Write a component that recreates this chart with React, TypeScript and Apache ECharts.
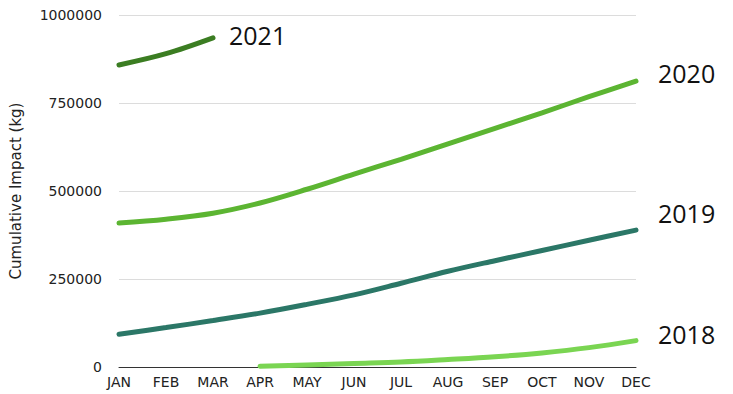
import React, { useEffect, useRef } from "react";
import * as echarts from "echarts";

const months = ["JAN", "FEB", "MAR", "APR", "MAY", "JUN", "JUL", "AUG", "SEP", "OCT", "NOV", "DEC"];
const years = ["2021", "2020", "2019", "2018"];
const v2021 = [858000, 890000, 935000, null, null, null, null, null, null, null, null, null];
const v2020 = [409000, 420000, 437000, 466000, 505000, 548000, 590000, 634000, 678000, 722000, 768000, 812000];
const v2019 = [93000, 112000, 132000, 153000, 178000, 205000, 238000, 272000, 302000, 331000, 360000, 389000];
const v2018 = [null, null, null, 2000, 6000, 10000, 14000, 21000, 29000, 40000, 55000, 75000];
const colors = ["#3b7d22", "#5cb532", "#2b7767", "#7ad552"];
const labelOffsets = [[16, -3], [22, -8], [22, -17], [22, -7]];

export default function App() {
  const ref = useRef<HTMLDivElement>(null);
  useEffect(() => {
    const chart = echarts.init(ref.current!, null, { renderer: "svg" });
    const data = [v2021, v2020, v2019, v2018];
    chart.setOption({
      animation: false,
      grid: { left: 117, right: 97, top: 15, bottom: 27 },
      xAxis: {
        type: "category",
        data: months,
        boundaryGap: false,
        axisLine: { lineStyle: { color: "#333", width: 1 } },
        axisTick: { show: false },
        axisLabel: { color: "#222", fontSize: 14, fontFamily: "DejaVu Sans", margin: 8 },
      },
      yAxis: {
        type: "value",
        min: 0,
        max: 1000000,
        interval: 250000,
        name: "Cumulative Impact (kg)",
        nameLocation: "middle",
        nameGap: 96,
        nameTextStyle: { color: "#222", fontSize: 15, fontFamily: "DejaVu Sans" },
        axisLine: { show: false },
        axisTick: { show: false },
        axisLabel: {
          color: "#222",
          fontSize: 14,
          fontFamily: "DejaVu Sans",
          margin: 17,
          formatter: (v: number) => String(v),
        },
        splitLine: { lineStyle: { color: "#dcdcdc", width: 1 } },
      },
      series: years.map((y, i) => ({
        name: y,
        type: "line",
        data: data[i],
        smooth: 0.35,
        showSymbol: false,
        symbol: "none",
        lineStyle: { color: colors[i], width: 5, cap: "round" },
        itemStyle: { color: colors[i] },
        endLabel: {
          show: true,
          formatter: y,
          color: "#111",
          fontSize: 25,
          fontFamily: "Open Sans",
          distance: 0,
          offset: labelOffsets[i],
        },
      })),
    });
    return () => chart.dispose();
  }, []);
  return <div ref={ref} style={{ position: "absolute", left: 0, top: 0, width: 733, height: 394 }} />;
}
